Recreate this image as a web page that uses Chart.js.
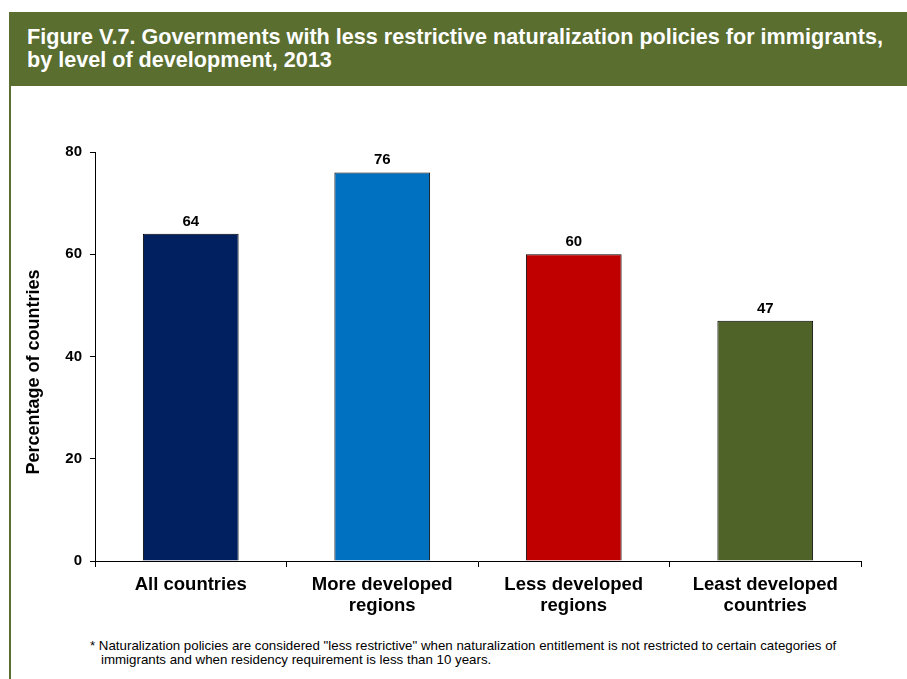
<!DOCTYPE html>
<html>
<head>
<meta charset="utf-8">
<script src="https://cdn.jsdelivr.net/npm/chart.js@4"></script>
<style>
  body { margin: 0; background: #fff; font-family: "Liberation Sans", Arial, sans-serif; }
  #page { position: relative; width: 907px; height: 679px; overflow: hidden; }
  #header {
    position: absolute; left: 9px; top: 12px; width: 898px; height: 74px;
    background: #5a6e30; color: #fff; font-weight: bold; font-size: 21.6px;
    line-height: 23px; box-sizing: border-box; padding: 13px 0 0 18px;
  }
  #leftRule { position: absolute; left: 9px; top: 86px; width: 2px; height: 593px; background: #5a6e30; }
  #wrap { position: absolute; left: 11px; top: 86px; width: 896px; height: 534px; }
  #note { position: absolute; left: 90px; top: 639px; font-size: 13.3px; line-height: 14px; color: #000; }
  #note span { padding-left: 11px; }
</style>
</head>
<body>
<div id="page">
  <div id="header">Figure V.7. Governments with less restrictive naturalization policies for immigrants,<br>by level of development, 2013</div>
  <div id="leftRule"></div>
  <div id="wrap"><canvas id="devChart" width="896" height="534"></canvas></div>
  <div id="note">* Naturalization policies are considered "less restrictive" when naturalization entitlement is not restricted to certain categories of<br><span>immigrants and when residency requirement is less than 10 years.</span></div>
</div>
<script>
// Share of countries with less restrictive naturalization policies
const categories = [
  ["All countries"],
  ["More developed", "regions"],
  ["Less developed", "regions"],
  ["Least developed", "countries"]
];
const shares = [64, 76, 60, 47];
const barColors = ["#002060", "#0070c0", "#c00000", "#4f6228"];
const yTicks = [0, 20, 40, 60, 80];
const yTitle = "Percentage of countries";

const FONT = "'Liberation Sans', Arial, sans-serif";

// value labels above each bar, plus the rotated y title
const extras = {
  id: "extras",
  afterDatasetsDraw(chart) {
    const { ctx } = chart;
    const meta = chart.getDatasetMeta(0);
    ctx.save();
    ctx.font = "bold 15px " + FONT;
    ctx.fillStyle = "#000";
    ctx.textAlign = "center";
    ctx.textBaseline = "alphabetic";
    meta.data.forEach((bar, i) => {
      ctx.fillText(String(shares[i]), bar.x, bar.y - 8);
    });
    ctx.translate(23, 286);
    ctx.rotate(-Math.PI / 2);
    ctx.font = "bold 18px " + FONT;
    ctx.textBaseline = "middle";
    ctx.fillText(yTitle, 0, 0);
    ctx.restore();
  }
};

const ctx = document.getElementById("devChart").getContext("2d");
new Chart(ctx, {
  type: "bar",
  data: {
    labels: categories,
    datasets: [{
      data: shares,
      backgroundColor: barColors,
      borderColor: "#000",
      borderWidth: 1,
      borderSkipped: "bottom",
      categoryPercentage: 1,
      barPercentage: 0.5
    }]
  },
  options: {
    responsive: false,
    animation: false,
    layout: { padding: { top: 66, right: 46, bottom: 0, left: 0 } },
    plugins: { legend: { display: false }, tooltip: { enabled: false } },
    scales: {
      x: {
        grid: { drawOnChartArea: false, color: "#000", tickLength: 6, offset: true },
        border: { color: "#000", width: 1 },
        ticks: {
          color: "#000", padding: 8, maxRotation: 0,
          font: { family: FONT, size: 18.5, weight: "bold", lineHeight: 1.1 }
        },
        afterFit: s => { s.height = 59; }
      },
      y: {
        min: 0, max: 80,
        afterBuildTicks: s => { s.ticks = yTicks.map(v => ({ value: v })); },
        grid: { drawOnChartArea: false, color: "#000", tickLength: 5 },
        border: { color: "#000", width: 1 },
        ticks: {
          color: "#000", padding: 8,
          font: { family: FONT, size: 15, weight: "bold" }
        },
        afterFit: s => { s.width = 84; }
      }
    }
  },
  plugins: [extras]
});
</script>
</body>
</html>
